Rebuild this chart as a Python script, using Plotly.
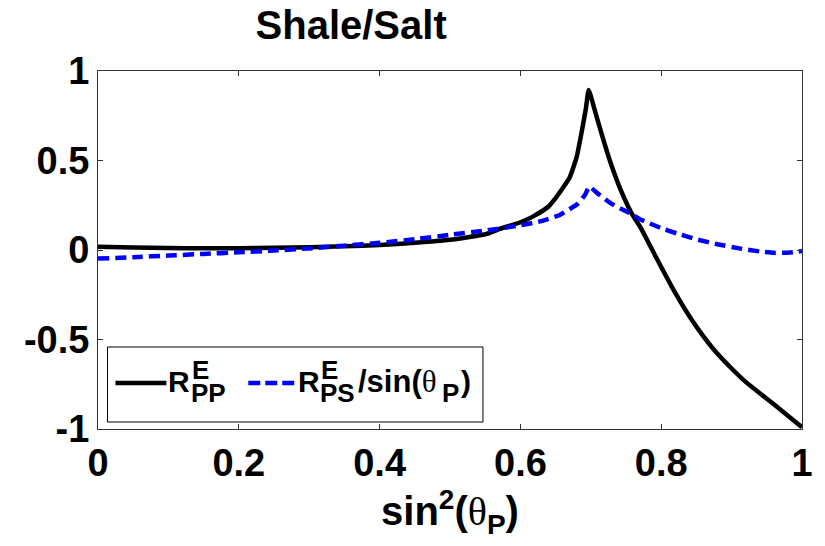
import plotly.graph_objects as go

# sin^2(theta_P) sample positions and the two reflection curves
pp_sin2 = [0.00, 0.05, 0.10, 0.15, 0.20, 0.25, 0.30, 0.35, 0.40, 0.45, 0.50, 0.55,
           0.571, 0.60, 0.61, 0.62, 0.63, 0.64, 0.65, 0.66, 0.67, 0.68, 0.688, 0.693,
           0.697, 0.705, 0.716, 0.727, 0.742, 0.758, 0.770, 0.785, 0.800, 0.820, 0.840,
           0.860, 0.880, 0.900, 0.920, 0.940, 0.960, 0.980, 1.000]
r_pp = [0.018, 0.014, 0.011, 0.010, 0.010, 0.012, 0.016, 0.021, 0.028, 0.040, 0.057, 0.088,
        0.118, 0.155, 0.172, 0.192, 0.215, 0.243, 0.290, 0.345, 0.405, 0.520, 0.680, 0.790,
        0.894, 0.790, 0.640, 0.500, 0.340, 0.205, 0.130, 0.018, -0.095, -0.240, -0.370,
        -0.482, -0.580, -0.662, -0.737, -0.800, -0.862, -0.926, -0.990]

ps_sin2 = [0.00, 0.05, 0.10, 0.15, 0.20, 0.25, 0.30, 0.35, 0.40, 0.45, 0.50, 0.55,
           0.60, 0.628, 0.656, 0.682, 0.692, 0.698, 0.710, 0.727, 0.742, 0.758, 0.770,
           0.800, 0.822, 0.850, 0.880, 0.911, 0.940, 0.960, 0.980, 1.000]
r_ps_over_sin = [-0.048, -0.040, -0.031, -0.022, -0.013, -0.003, 0.009, 0.024, 0.040, 0.060,
                 0.085, 0.108, 0.138, 0.160, 0.196, 0.260, 0.310, 0.354, 0.315, 0.265,
                 0.232, 0.200, 0.172, 0.122, 0.093, 0.060, 0.032, 0.009, -0.008, -0.016,
                 -0.015, -0.006]

x_ticks = [0, 0.2, 0.4, 0.6, 0.8, 1]
x_tick_text = ["0", "0.2", "0.4", "0.6", "0.8", "1"]
y_ticks = [-1, -0.5, 0, 0.5, 1]
y_tick_text = ["-1", "-0.5", "0", "0.5", "1"]

W, H = 825, 546
L, R, T, B = 97.5, 22.5, 71, 117
PW, PH = W - L - R, H - T - B

FONT = "Liberation Sans"
BLUE = "#0000ff"
THETA = '<span style="font-family:Liberation Serif;font-weight:normal">θ</span>'


def px_x(px):
    return (px - L) / PW


def px_y(py):
    return (H - B - py) / PH


fig = go.Figure()
fig.add_trace(go.Scatter(x=pp_sin2, y=r_pp, mode="lines",
                         line=dict(color="black", width=4.5, shape="spline", smoothing=0.4),
                         showlegend=False))
fig.add_trace(go.Scatter(x=ps_sin2, y=r_ps_over_sin, mode="lines",
                         line=dict(color=BLUE, width=4.5, dash="11px,6px",
                                   shape="spline", smoothing=0.4),
                         showlegend=False))

axis_common = dict(showline=True, linecolor="#333333", linewidth=1, mirror="ticks",
                   ticks="inside", ticklen=5, tickwidth=1, tickcolor="#333333",
                   showgrid=False, zeroline=False,
                   tickfont=dict(family=FONT, size=38, color="black", weight="bold"))

fig.update_xaxes(range=[0, 1], tickvals=x_ticks, ticktext=x_tick_text,
                 title=dict(text="sin<sup>2</sup>(" + THETA + "<sub>P</sub>)",
                            font=dict(family=FONT, size=40, color="black", weight="bold"),
                            standoff=6),
                 **axis_common)
fig.update_yaxes(range=[-1, 1], tickvals=y_ticks, ticktext=y_tick_text, **axis_common)

# legend box drawn in the lower-left corner of the axes
shapes = [
    dict(type="rect", xref="paper", yref="paper", x0=px_x(107), x1=px_x(483),
         y0=px_y(422), y1=px_y(347), line=dict(color="black", width=1),
         fillcolor="white", layer="above"),
    dict(type="line", xref="paper", yref="paper", x0=px_x(115), x1=px_x(166),
         y0=px_y(383), y1=px_y(383), line=dict(color="black", width=4.5)),
    dict(type="line", xref="paper", yref="paper", x0=px_x(248), x1=px_x(294),
         y0=px_y(383), y1=px_y(383), line=dict(color=BLUE, width=4.5, dash="12px,5px")),
]

LEG = dict(family=FONT, size=30, color="black", weight="bold")
LEG_WIDE = dict(family=FONT, size=31, color="black", weight="bold")
SUB = dict(family=FONT, size=26, color="black", weight="bold")


def leg_text(text, px, py, font):
    return dict(text=text, xref="paper", yref="paper", x=px_x(px), y=px_y(py),
                xanchor="left", yanchor="middle", showarrow=False, font=font,
                borderpad=0)


annotations = [
    leg_text("R", 167, 381, LEG),
    leg_text("E", 191, 370, SUB),
    leg_text("PP", 190, 393, SUB),
    leg_text("R", 297, 381, LEG),
    leg_text("E", 320, 370, SUB),
    leg_text("PS", 319, 393, SUB),
    leg_text("/sin(" + THETA, 357, 381, LEG_WIDE),
    leg_text("P", 441, 393, SUB),
    leg_text(")", 460, 381, LEG),
]

fig.update_layout(
    width=W, height=H,
    margin=dict(l=L, r=R, t=T, b=B),
    paper_bgcolor="white", plot_bgcolor="white",
    title=dict(text="Shale/Salt", xref="paper", x=px_x(351), xanchor="center",
               yref="container", y=1 - 25 / H, yanchor="middle",
               font=dict(family=FONT, size=40, color="black", weight="bold")),
    shapes=shapes,
    annotations=annotations,
)

fig.write_html("out.html")
